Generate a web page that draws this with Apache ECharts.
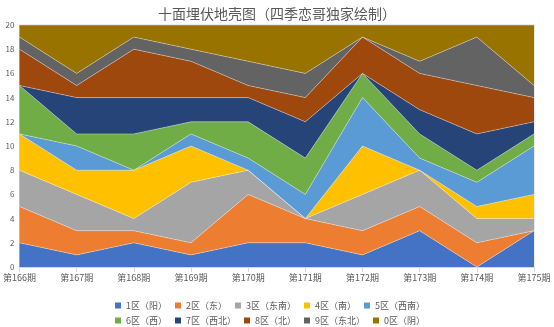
<!DOCTYPE html>
<html><head><meta charset="utf-8">
<script src="https://cdn.jsdelivr.net/npm/echarts@6/dist/echarts.min.js"></script>
<style>html,body{margin:0;padding:0;background:#fff}#c{width:554px;height:327px}</style>
</head><body><div id="c"></div>
<script>
const categories = ['第166期','第167期','第168期','第169期','第170期','第171期','第172期','第173期','第174期','第175期'];
const seriesNames = ['1区（阳）','2区（东）','3区（东南）','4区（南）','5区（西南）','6区（西）','7区（西北）','8区（北）','9区（东北）','0区（阴）'];
const s1 = [2,1,2,1,2,2,1,3,0,3];
const s2 = [3,2,1,1,4,2,2,2,2,0];
const s3 = [3,3,1,5,2,0,3,3,2,1];
const s4 = [3,2,4,3,0,0,4,0,1,2];
const s5 = [0,2,0,1,1,2,4,1,2,4];
const s6 = [4,1,3,1,3,3,2,2,1,1];
const s7 = [0,3,3,2,2,3,0,2,3,1];
const s8 = [3,1,4,3,1,2,3,3,4,2];
const s9 = [1,1,1,1,2,2,0,1,4,1];
const s0 = [1,4,1,2,3,4,1,3,1,5];
const yTicks = [0,2,4,6,8,10,12,14,16,18,20];
const allValues = [s1,s2,s3,s4,s5,s6,s7,s8,s9,s0];
const colors = ['#4472C4','#ED7D31','#A5A5A5','#FFC000','#5B9BD5','#70AD47','#264478','#9E480E','#636363','#997300'];
const font = '"Noto Sans CJK SC", "Noto Sans", sans-serif';
const chart = echarts.init(document.getElementById('c'));
const legendBase = {
  left: 110, orient: 'horizontal', itemWidth: 6, itemHeight: 6, itemGap: 8, icon: 'rect',
  textStyle: {fontSize: 9, color: '#595959', fontFamily: font, width: 45, overflow: 'none'}
};
chart.setOption({
  animation: false,
  color: colors,
  title: {text: '十面埋伏地壳图（四季恋哥独家绘制）', left: 'center', top: 2,
    textStyle: {fontSize: 14, fontWeight: 'normal', color: '#595959', fontFamily: font}},
  legend: [
    Object.assign({}, legendBase, {top: 296, data: seriesNames.slice(0,5)}),
    Object.assign({}, legendBase, {top: 311, data: seriesNames.slice(5)})
  ],
  grid: {left: 18, right: 20, top: 25, bottom: 60, show: true, borderColor: '#D9D9D9', borderWidth: 1},
  xAxis: {type: 'category', data: categories, boundaryGap: false,
    axisLine: {show: true, lineStyle: {color: '#D9D9D9'}},
    axisTick: {show: true, alignWithLabel: true, lineStyle: {color: '#D9D9D9'}},
    axisLabel: {fontSize: 9, color: '#595959', fontFamily: font, margin: 6, showMinLabel: true, showMaxLabel: true, interval: 0},
    splitLine: {show: false}},
  yAxis: {type: 'value', min: yTicks[0], max: yTicks[yTicks.length-1], interval: 2,
    axisLine: {show: false}, axisTick: {show: false}, splitLine: {show: false},
    axisLabel: {fontSize: 8, color: '#595959', fontFamily: font, margin: 5}},
  series: seriesNames.map((n, i) => ({
    name: n, type: 'line', stack: 'total', data: allValues[i], symbol: 'none',
    lineStyle: {width: 0.6, color: 'rgba(255,255,255,0.6)'},
    areaStyle: {color: colors[i], opacity: 1},
    itemStyle: {color: colors[i]}
  }))
});
</script></body></html>
